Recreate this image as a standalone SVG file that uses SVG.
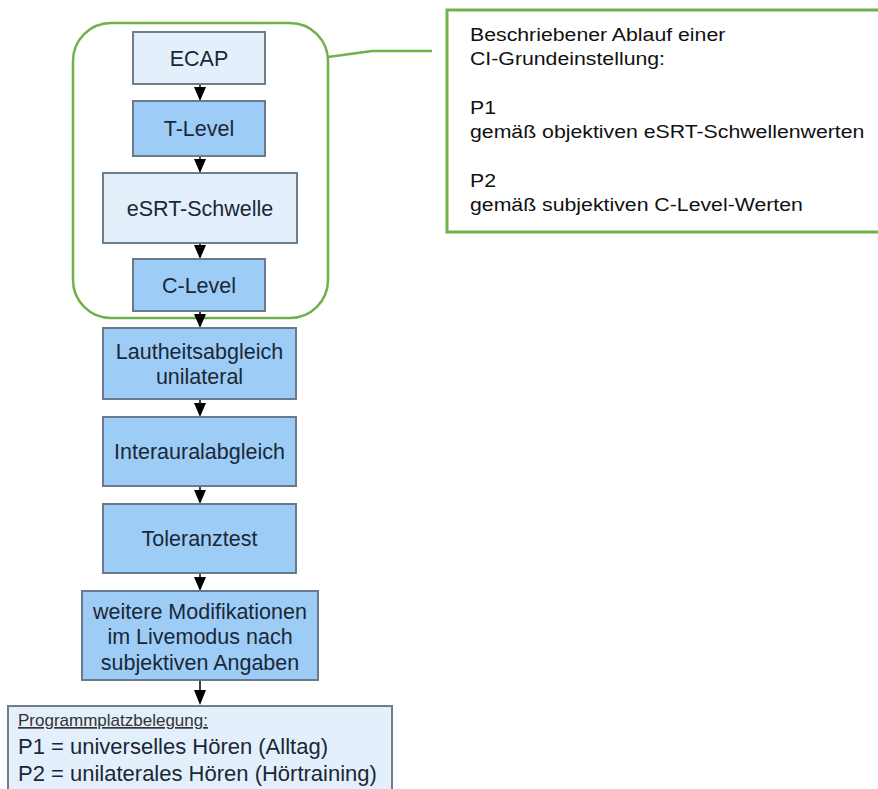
<svg xmlns="http://www.w3.org/2000/svg" width="878" height="789" viewBox="0 0 878 789">
<style>
.light{fill:#e3f0fc;stroke:#707e8c;stroke-width:2}
.dark{fill:#9dcdf6;stroke:#6a7a8a;stroke-width:2}
.bt{font-family:"Liberation Sans",Arial,sans-serif;font-size:21.5px;fill:#1b2736;text-anchor:middle}
.ct{font-family:"Liberation Sans",Arial,sans-serif;font-size:19px;fill:#111}
.green{fill:none;stroke:#72b04a;stroke-width:2.5}
.conn line{stroke:#000;stroke-width:1.5}
.conn polygon{fill:#000}
</style>
<rect width="878" height="789" fill="#fff"/>
<g id="group-frame">
<rect class="green" x="73" y="23" width="255" height="295" rx="38" ry="38"/>
</g>
<g id="callout">
<rect x="447" y="10" width="440" height="222" fill="#fff" stroke="#72b04a" stroke-width="3"/>
<g transform="translate(470,0) scale(1.12,1)">
<text class="ct" x="0" y="41">Beschriebener Ablauf einer</text>
<text class="ct" x="0" y="65">CI-Grundeinstellung:</text>
<text class="ct" x="0" y="114">P1</text>
<text class="ct" x="0" y="138">gemäß objektiven eSRT-Schwellenwerten</text>
<text class="ct" x="0" y="187">P2</text>
<text class="ct" x="0" y="211">gemäß subjektiven C-Level-Werten</text>
</g>
</g>
<g class="conn" id="connectors">
<polyline points="328,57 372,51 432,51" fill="none" stroke="#72b04a" stroke-width="2.5"/>
<line x1="200" y1="84" x2="200" y2="90"/><polygon points="194,87 206,87 200,101"/>
<line x1="200" y1="156" x2="200" y2="162"/><polygon points="194,159 206,159 200,173"/>
<line x1="200" y1="243" x2="200" y2="249"/><polygon points="194,245 206,245 200,259"/>
<line x1="200" y1="311" x2="200" y2="317"/><polygon points="194,314 206,314 200,328"/>
<line x1="200" y1="399" x2="200" y2="405"/><polygon points="194,403 206,403 200,417"/>
<line x1="200" y1="486" x2="200" y2="492"/><polygon points="194,490 206,490 200,504"/>
<line x1="200" y1="573" x2="200" y2="579"/><polygon points="194,577 206,577 200,591"/>
<line x1="200" y1="680" x2="200" y2="692"/><polygon points="194,690 206,690 200,705"/>
</g>
<g id="ecap"><rect class="light" x="133" y="32" width="132" height="52"/><text class="bt" x="199" y="65.5">ECAP</text></g>
<g id="tlevel"><rect class="dark" x="133" y="101" width="132" height="55"/><text class="bt" x="199" y="136">T-Level</text></g>
<g id="esrt"><rect class="light" x="103" y="173" width="194" height="70"/><text class="bt" x="200" y="215.5">eSRT-Schwelle</text></g>
<g id="clevel"><rect class="dark" x="133" y="259" width="132" height="52"/><text class="bt" x="199" y="292.5">C-Level</text></g>
<g id="lautheit"><rect class="dark" x="103" y="328" width="193" height="71"/><text class="bt" x="199.5" y="358.5">Lautheitsabgleich</text><text class="bt" x="199.5" y="384">unilateral</text></g>
<g id="interaural"><rect class="dark" x="103" y="417" width="193" height="69"/><text class="bt" x="199.5" y="459">Interauralabgleich</text></g>
<g id="toleranz"><rect class="dark" x="103" y="504" width="193" height="69"/><text class="bt" x="199.5" y="546">Toleranztest</text></g>
<g id="weitere"><rect class="dark" x="82" y="591" width="236" height="89"/><text class="bt" x="200" y="618.5">weitere Modifikationen</text><text class="bt" x="200" y="644">im Livemodus nach</text><text class="bt" x="200" y="669.5">subjektiven Angaben</text></g>
<g id="programm">
<rect class="light" x="8" y="706" width="384" height="95"/>
<text x="18" y="726" font-family="Liberation Sans, Arial, sans-serif" font-size="17px" fill="#333" text-decoration="underline">Programmplatzbelegung:</text>
<text x="18" y="754" font-family="Liberation Sans, Arial, sans-serif" font-size="22px" fill="#1b2736">P1 = universelles Hören (Alltag)</text>
<text x="18" y="781" font-family="Liberation Sans, Arial, sans-serif" font-size="22px" fill="#1b2736">P2 = unilaterales Hören (Hörtraining)</text>
</g>
</svg>
